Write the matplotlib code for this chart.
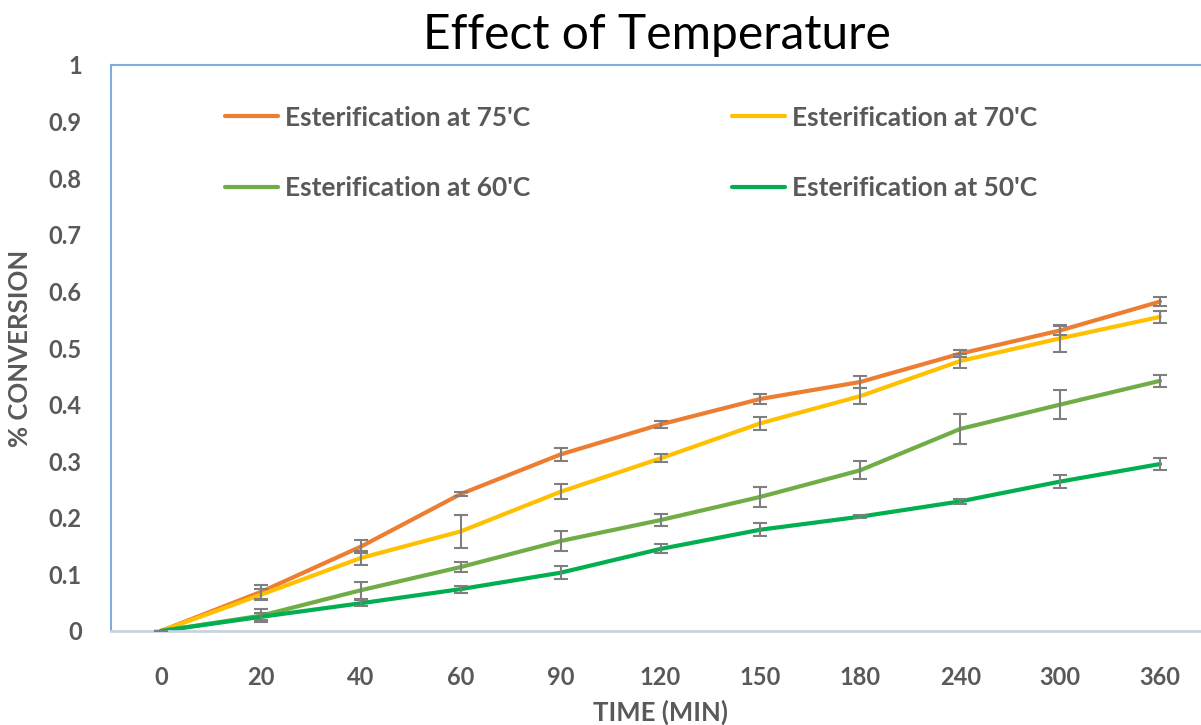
import numpy as np
import matplotlib
matplotlib.use('Agg')
import matplotlib.pyplot as plt

## data
times = ['0', '20', '40', '60', '90', '120', '150', '180', '240', '300', '360']

conv_75 = [0, 0.069, 0.149, 0.242, 0.312, 0.365, 0.410, 0.440, 0.490, 0.531, 0.582]
conv_70 = [0, 0.064, 0.129, 0.176, 0.246, 0.305, 0.367, 0.415, 0.477, 0.517, 0.555]
conv_60 = [0, 0.027, 0.072, 0.113, 0.159, 0.196, 0.237, 0.284, 0.357, 0.400, 0.442]
conv_50 = [0, 0.025, 0.049, 0.074, 0.103, 0.145, 0.179, 0.202, 0.229, 0.264, 0.295]

err_75 = [0, 0.012, 0.011, 0.004, 0.011, 0.006, 0.009, 0.010, 0.006, 0.008, 0.008]
err_70 = [0, 0.010, 0.013, 0.029, 0.013, 0.007, 0.011, 0.014, 0.012, 0.024, 0.011]
err_60 = [0, 0.011, 0.015, 0.009, 0.017, 0.010, 0.018, 0.016, 0.027, 0.025, 0.011]
err_50 = [0, 0.006, 0.005, 0.006, 0.012, 0.008, 0.011, 0.003, 0.005, 0.011, 0.011]

labels = ["Esterification at 75'C", "Esterification at 70'C",
          "Esterification at 60'C", "Esterification at 50'C"]
colors = ['#ED7D31', '#FFC000', '#70AD47', '#00B050']

plt.rcParams['font.family'] = ['Lato', 'DejaVu Sans']
txt = '#595959'

fig = plt.figure(figsize=(12.01, 7.25), dpi=100)
ax = fig.add_axes([111/1201, 94/725, 1099/1201, 566/725])

x = np.arange(len(times))
series = [conv_75, conv_70, conv_60, conv_50]
errs = [err_75, err_70, err_60, err_50]
handles = []
for y, e, c, lab in zip(series, errs, colors, labels):
	h, = ax.plot(x, y, color=c, lw=3, label=lab, zorder=2, solid_capstyle='round')
	ax.errorbar(x, y, yerr=e, fmt='none', ecolor='#7F7F7F', elinewidth=1.5,
		capsize=5, capthick=1.5, zorder=3)
	handles.append(h)

ax.set_xlim(-0.5, len(times) - 0.5)
ax.set_ylim(0, 1)
ax.set_xticks(x)
ax.set_xticklabels(times)
ax.set_yticks(np.arange(0, 1.01, 0.1))
ax.set_yticklabels(['0'] + ['%.1f' % v for v in np.arange(0.1, 0.95, 0.1)] + ['1'])
ax.tick_params(length=0, labelsize=17, labelcolor=txt)
ax.tick_params(axis='x', pad=25)
ax.tick_params(axis='y', pad=21)
for lab in ax.get_xticklabels() + ax.get_yticklabels():
	lab.set_fontweight('bold')

for s in ['left', 'top', 'right']:
	ax.spines[s].set_color('#7EAEDD')
	ax.spines[s].set_linewidth(1.5)
ax.spines['bottom'].set_color('#C9D3DF')
ax.spines['bottom'].set_linewidth(2)

ax.set_xlabel('TIME (MIN)', fontsize=18.5, fontweight='bold', color=txt, labelpad=8)
ax.set_ylabel('% CONVERSION', fontsize=18.5, fontweight='bold', color=txt, labelpad=12)
fig.text(657/1201, 1 - 35/725, 'Effect of Temperature', fontsize=34.5,
	ha='center', va='center', color='black')

## legend: column-wise fill, so order 75, 60, 70, 50
order = [0, 2, 1, 3]
leg = ax.legend([handles[i] for i in order], [labels[i] for i in order],
	ncol=2, frameon=False, loc='upper left', bbox_to_anchor=(0.082, 0.970),
	prop={'size': 19, 'weight': 'bold'}, labelcolor=txt,
	handlelength=2.0, handletextpad=0.27, labelspacing=1.77, columnspacing=7.65)
for l in leg.get_lines():
	l.set_linewidth(3)

fig.savefig('out.png', dpi=100)
